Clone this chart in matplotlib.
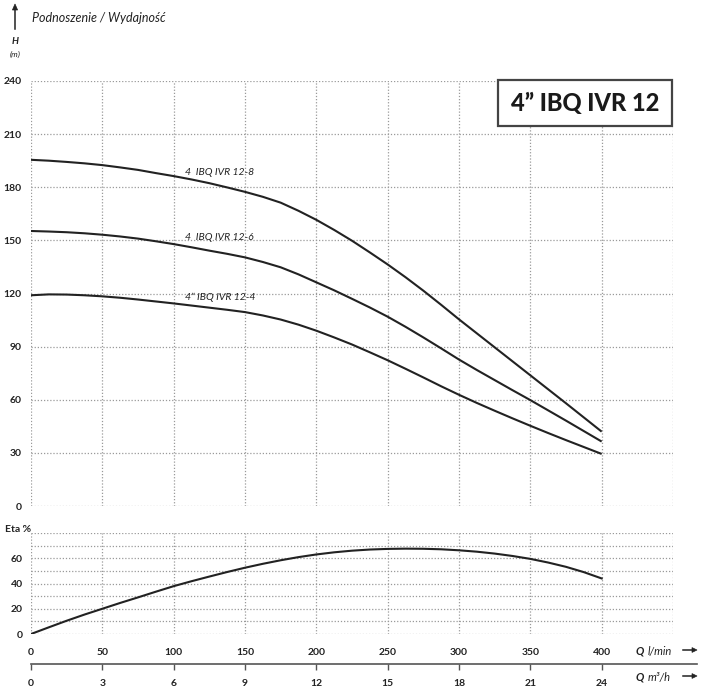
import matplotlib
matplotlib.use("Agg")
import matplotlib.pyplot as plt
from matplotlib.patches import Rectangle, Polygon
from matplotlib.lines import Line2D

# ---------------- data ----------------
q_lmin = [0, 12.5, 25, 37.5, 50, 62.5, 75, 87.5, 100, 112.5, 125, 137.5, 150, 162.5, 175, 187.5,
          200, 212.5, 225, 237.5, 250, 262.5, 275, 287.5, 300, 312.5, 325, 337.5, 350, 362.5, 375, 387.5, 400]
h_12_8 = [195.5, 195, 194.3, 193.5, 192.5, 191.2, 189.8, 188, 186.3, 184.4, 182.3, 179.9, 177.4, 174.6, 171.3, 166.7,
          161.6, 155.9, 149.8, 143.2, 136.4, 129.2, 121.6, 113.6, 105.4, 97.5, 89.6, 81.7, 73.8, 65.9, 58, 50, 42]
h_12_6 = [155.3, 155, 154.6, 154, 153.2, 152.2, 151, 149.5, 147.9, 146.1, 144.2, 142.4, 140.4, 137.8, 134.8, 130.8,
          126.3, 121.8, 117, 112.1, 106.9, 101.2, 95.2, 89, 82.7, 76.8, 71.1, 65.4, 59.8, 54, 48.2, 42.3, 36.4]
h_12_4 = [119, 119.5, 119.4, 119, 118.4, 117.6, 116.6, 115.5, 114.4, 113.2, 112, 110.8, 109.5, 107.6, 105.3, 102.4,
          99, 95.2, 91.2, 86.8, 82.3, 77.5, 72.6, 67.6, 62.8, 58.2, 53.8, 49.5, 45.3, 41.2, 37.2, 33.3, 29.4]
eta = [0, 5.3, 10.5, 15.4, 20, 24.6, 29, 33.5, 37.9, 41.8, 45.5, 49.1, 52.5, 55.6, 58.4, 60.9,
       63, 64.7, 66, 66.9, 67.4, 67.6, 67.5, 67.1, 66.3, 65.2, 63.7, 61.8, 59.5, 56.6, 53.2, 49, 44]

curve_labels = ["4  IBQ IVR 12-8", "4  IBQ IVR 12-6", "4\u201d IBQ IVR 12-4"]
h_ticks = [0, 30, 60, 90, 120, 150, 180, 210, 240]
eta_ticks = [0, 20, 40, 60]
q_ticks = [0, 50, 100, 150, 200, 250, 300, 350, 400]
m3h_ticks = [0, 3, 6, 9, 12, 15, 18, 21, 24]
title = "4\u201d IBQ IVR 12"

# ---------------- layout ----------------
W, H = 711, 692
fig = plt.figure(figsize=(W / 100, H / 100), dpi=100)
FONT = "Lato"
plt.rcParams["font.family"] = [FONT, "DejaVu Sans"]
DARK = "#222222"
GRID = "#9a9a9a"


def box(x0, y0, x1, y1):
    return [x0 / W, 1 - y1 / H, (x1 - x0) / W, (y1 - y0) / H]


def fx(x):
    return x / W


def fy(y):
    return 1 - y / H


def style_grid(ax):
    for s in ax.spines.values():
        s.set_visible(False)
    ax.grid(True, which="both", color=GRID, linestyle=(0, (1, 1.5)), linewidth=0.9)
    ax.tick_params(which="both", length=0)
    ax.set_axisbelow(True)


def arrow(x0, y0, x1, y1, head=5, hw=2.6):
    # straight shaft + filled triangular head, in pixel coordinates (y down)
    dx, dy = x1 - x0, y1 - y0
    n = (dx * dx + dy * dy) ** 0.5
    ux, uy = dx / n, dy / n
    bx, by = x1 - ux * head, y1 - uy * head
    fig.add_artist(Line2D([fx(x0), fx(bx)], [fy(y0), fy(by)], transform=fig.transFigure,
                          color=DARK, lw=1.1))
    pts = [(fx(x1), fy(y1)),
           (fx(bx - uy * hw), fy(by + ux * hw)),
           (fx(bx + uy * hw), fy(by - ux * hw))]
    fig.add_artist(Polygon(pts, closed=True, transform=fig.transFigure, facecolor=DARK,
                           edgecolor=DARK, lw=0.5))


# top chart
ax1 = fig.add_axes(box(31, 81, 673, 506))
ax1.set_xlim(0, 450)
ax1.set_ylim(0, 240)
ax1.set_xticks(list(range(0, 451, 50)))
ax1.set_xticklabels([])
ax1.set_yticks(h_ticks)
ax1.set_yticklabels([str(v) for v in h_ticks], fontsize=7.5, fontweight="bold", color=DARK)
ax1.tick_params(axis="y", pad=7)
style_grid(ax1)
for h in (h_12_8, h_12_6, h_12_4):
    ax1.plot(q_lmin, h, color=DARK, lw=1.5, solid_capstyle="butt", solid_joinstyle="round")

label_pos = [(108, 188.6), (108, 151.9), (108, 118)]
for (x, y), t in zip(label_pos, curve_labels):
    ax1.text(x, y, t, fontsize=7.5, style="italic", color=DARK, ha="left", va="center")

# efficiency chart
ax2 = fig.add_axes(box(31, 533, 673, 634))
ax2.set_xlim(0, 450)
ax2.set_ylim(0, 80)
ax2.set_xticks(list(range(0, 451, 50)))
ax2.set_xticklabels([str(v) for v in q_ticks] + [""], fontsize=7.5, fontweight="bold", color=DARK)
ax2.set_yticks(eta_ticks)
ax2.set_yticks(list(range(0, 81, 10)), minor=True)
ax2.set_yticklabels([str(v) for v in eta_ticks], fontsize=7.5, fontweight="bold", color=DARK)
ax2.tick_params(axis="y", pad=6)
ax2.tick_params(axis="x", pad=10)
style_grid(ax2)
ax2.plot(q_lmin, eta, color=DARK, lw=1.5, solid_joinstyle="round")

# m3/h axis
ax3 = fig.add_axes(box(31, 663, 697, 664))
ax3.set_xlim(0, (697 - 31) / 642 * 450 * 0.06)
ax3.set_ylim(0, 1)
for s in ("top", "left", "right"):
    ax3.spines[s].set_visible(False)
ax3.spines["bottom"].set_color("#555555")
ax3.spines["bottom"].set_linewidth(1.2)
ax3.set_yticks([])
ax3.set_xticks(m3h_ticks)
ax3.set_xticklabels([str(v) for v in m3h_ticks], fontsize=7.5, fontweight="bold", color=DARK)
ax3.tick_params(axis="x", direction="out", length=4, width=1, color="#555555", pad=7)
ax3.patch.set_visible(False)

# texts
fig.text(fx(32), fy(18), "Podnoszenie / Wydajno\u015b\u0107", fontsize=9, style="italic",
         color=DARK, ha="left", va="center")
arrow(15, 29, 15, 4, head=6, hw=2.6)
fig.text(fx(15), fy(42), "H", fontsize=7, style="italic", fontweight="bold", color=DARK,
         ha="center", va="center")
fig.text(fx(15), fy(54), "(m)", fontsize=6, style="italic", color=DARK, ha="center", va="center")
fig.text(fx(31), fy(530), "Eta %", fontsize=7.5, fontweight="bold", color=DARK, ha="right", va="center")

fig.text(fx(636), fy(651), "Q", fontsize=8, fontweight="bold", style="italic", color=DARK,
         ha="left", va="center")
fig.text(fx(648), fy(651), "l/min", fontsize=8, style="italic", color=DARK, ha="left", va="center")
fig.text(fx(636), fy(677), "Q", fontsize=8, fontweight="bold", style="italic", color=DARK,
         ha="left", va="center")
fig.text(fx(648), fy(677), "m\u00b3/h", fontsize=8, style="italic", color=DARK, ha="left", va="center")
for yy in (650, 676):
    arrow(683, yy, 697, yy, head=5, hw=2.4)

# title box
fig.add_artist(Rectangle((fx(498), fy(126)), (672 - 498) / W, (126 - 80) / H, transform=fig.transFigure,
                         facecolor="white", edgecolor="#444444", lw=1.6, zorder=5))
fig.text(fx(585), fy(104), title, fontsize=17, fontweight="black", color="#1a1a1a",
         ha="center", va="center", zorder=6)

fig.savefig("out.png", dpi=100)
